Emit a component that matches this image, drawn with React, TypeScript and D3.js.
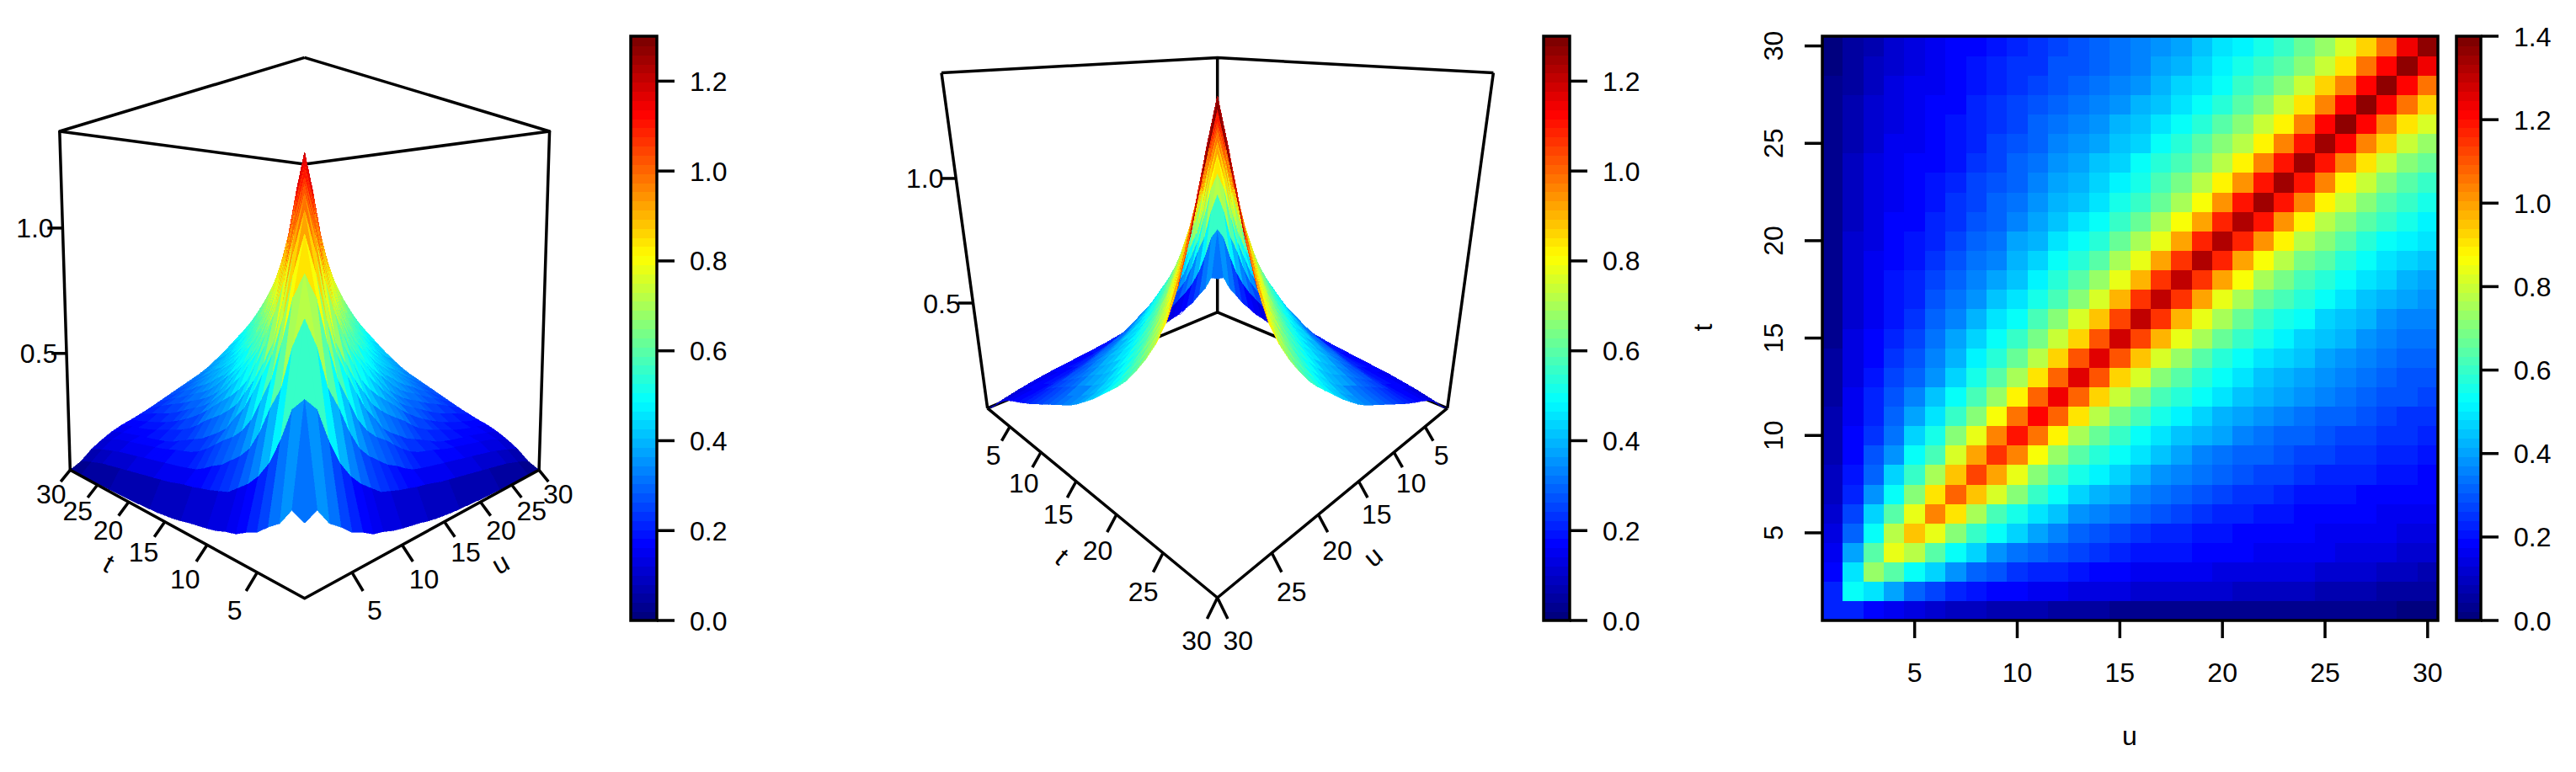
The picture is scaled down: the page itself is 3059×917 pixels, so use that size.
import * as d3 from "d3";

// upper triangle of the kernel: row t holds u = t..30
const row01 = [0.22, 0.24, 0.19, 0.165, 0.135, 0.12, 0.1, 0.092, 0.08, 0.072, 0.066, 0.06, 0.052, 0.046, 0.042, 0.038, 0.036, 0.034, 0.032, 0.03, 0.029, 0.028, 0.027, 0.026, 0.025, 0.024, 0.023, 0.022, 0.021, 0.02];
const row02 = [0.525, 0.49, 0.395, 0.32, 0.27, 0.235, 0.21, 0.185, 0.175, 0.165, 0.158, 0.15, 0.145, 0.138, 0.13, 0.125, 0.12, 0.115, 0.11, 0.105, 0.1, 0.095, 0.09, 0.085, 0.08, 0.072, 0.064, 0.055, 0.045];
const row03 = [0.73, 0.65, 0.525, 0.46, 0.38, 0.32, 0.285, 0.26, 0.235, 0.22, 0.2, 0.185, 0.178, 0.172, 0.167, 0.162, 0.157, 0.152, 0.147, 0.142, 0.137, 0.132, 0.127, 0.12, 0.113, 0.105, 0.095, 0.085];
const row04 = [0.85, 0.78, 0.645, 0.53, 0.46, 0.39, 0.345, 0.315, 0.295, 0.27, 0.245, 0.225, 0.212, 0.205, 0.198, 0.19, 0.182, 0.177, 0.172, 0.167, 0.162, 0.157, 0.152, 0.146, 0.137, 0.127, 0.115];
const row05 = [0.96, 0.845, 0.705, 0.595, 0.525, 0.46, 0.4, 0.36, 0.315, 0.29, 0.27, 0.25, 0.238, 0.225, 0.212, 0.198, 0.19, 0.184, 0.179, 0.175, 0.171, 0.166, 0.161, 0.155, 0.148, 0.14];
const row06 = [1.03, 0.91, 0.76, 0.62, 0.55, 0.49, 0.44, 0.39, 0.36, 0.335, 0.315, 0.295, 0.27, 0.25, 0.235, 0.224, 0.215, 0.205, 0.195, 0.188, 0.181, 0.176, 0.172, 0.167, 0.16];
const row07 = [1.085, 0.96, 0.815, 0.705, 0.595, 0.53, 0.465, 0.425, 0.395, 0.37, 0.345, 0.318, 0.295, 0.275, 0.258, 0.243, 0.23, 0.218, 0.208, 0.2, 0.193, 0.185, 0.18, 0.175];
const row08 = [1.12, 0.985, 0.84, 0.71, 0.63, 0.56, 0.51, 0.46, 0.425, 0.39, 0.36, 0.33, 0.31, 0.295, 0.28, 0.265, 0.25, 0.237, 0.228, 0.22, 0.21, 0.2, 0.192];
const row09 = [1.15, 1.03, 0.86, 0.735, 0.645, 0.57, 0.525, 0.485, 0.445, 0.405, 0.37, 0.345, 0.325, 0.31, 0.298, 0.283, 0.27, 0.26, 0.248, 0.235, 0.222, 0.21];
const row10 = [1.185, 1.05, 0.885, 0.755, 0.665, 0.595, 0.535, 0.49, 0.455, 0.425, 0.395, 0.365, 0.342, 0.325, 0.313, 0.298, 0.283, 0.27, 0.258, 0.243, 0.23];
const row11 = [1.205, 1.075, 0.91, 0.785, 0.69, 0.615, 0.56, 0.52, 0.475, 0.435, 0.405, 0.385, 0.36, 0.342, 0.328, 0.308, 0.295, 0.28, 0.262, 0.25];
const row12 = [1.225, 1.09, 0.92, 0.795, 0.705, 0.625, 0.575, 0.525, 0.485, 0.45, 0.425, 0.4, 0.378, 0.358, 0.338, 0.32, 0.3, 0.285, 0.27];
const row13 = [1.255, 1.1, 0.935, 0.81, 0.715, 0.645, 0.58, 0.53, 0.495, 0.455, 0.43, 0.405, 0.39, 0.365, 0.345, 0.325, 0.305, 0.29];
const row14 = [1.26, 1.11, 0.95, 0.83, 0.73, 0.655, 0.59, 0.54, 0.5, 0.465, 0.44, 0.415, 0.39, 0.37, 0.345, 0.325, 0.31];
const row15 = [1.28, 1.13, 0.965, 0.84, 0.745, 0.66, 0.6, 0.555, 0.515, 0.475, 0.45, 0.42, 0.39, 0.365, 0.345, 0.33];
const row16 = [1.3, 1.15, 0.975, 0.85, 0.75, 0.665, 0.61, 0.56, 0.525, 0.48, 0.45, 0.42, 0.39, 0.37, 0.355];
const row17 = [1.305, 1.15, 0.985, 0.845, 0.755, 0.675, 0.615, 0.57, 0.525, 0.49, 0.455, 0.425, 0.4, 0.385];
const row18 = [1.31, 1.155, 0.99, 0.86, 0.765, 0.69, 0.625, 0.575, 0.53, 0.495, 0.46, 0.435, 0.415];
const row19 = [1.32, 1.17, 1.0, 0.87, 0.78, 0.695, 0.635, 0.58, 0.535, 0.5, 0.47, 0.45];
const row20 = [1.32, 1.18, 1.01, 0.875, 0.785, 0.705, 0.64, 0.585, 0.54, 0.51, 0.485];
const row21 = [1.33, 1.185, 1.02, 0.885, 0.785, 0.71, 0.645, 0.595, 0.55, 0.52];
const row22 = [1.335, 1.19, 1.03, 0.89, 0.79, 0.71, 0.65, 0.6, 0.56];
const row23 = [1.345, 1.195, 1.03, 0.895, 0.79, 0.715, 0.655, 0.61];
const row24 = [1.35, 1.2, 1.03, 0.91, 0.8, 0.72, 0.665];
const row25 = [1.355, 1.21, 1.045, 0.92, 0.805, 0.73];
const row26 = [1.36, 1.21, 1.045, 0.91, 0.81];
const row27 = [1.365, 1.215, 1.05, 0.92];
const row28 = [1.37, 1.22, 1.06];
const row29 = [1.37, 1.225];
const row30 = [1.375];

const upperRows = [
  row01, row02, row03, row04, row05, row06, row07, row08, row09, row10,
  row11, row12, row13, row14, row15, row16, row17, row18, row19, row20,
  row21, row22, row23, row24, row25, row26, row27, row28, row29, row30,
];

const gridTicks = [5, 10, 15, 20, 25, 30];
const zTicks = [0.5, 1.0];
const barTicks = [0, 0.2, 0.4, 0.6, 0.8, 1.0, 1.2];
const heatBarTicks = [0, 0.2, 0.4, 0.6, 0.8, 1.0, 1.2, 1.4];
const jetStops = ["#00007F", "#0000FF", "#007FFF", "#00FFFF", "#7FFF7F", "#FFFF00", "#FF7F00", "#FF0000", "#7F0000"];

const FONT = "'Liberation Sans', Arial, sans-serif";
const FS = 32;
const LW = 3.5;
const PLOT_TOP = 43;
const PLOT_BOTTOM = 737;
const grid = d3.range(1, 31);

// value at (u, t): the kernel is symmetric
const K = (u: number, t: number) => {
  const lo = Math.min(u, t);
  const hi = Math.max(u, t);
  return upperRows[lo - 1][hi - lo];
};

const jet = d3.scaleLinear<string>()
  .domain(jetStops.map((_, i) => i / (jetStops.length - 1)))
  .range(jetStops)
  .interpolate(d3.interpolateRgb);
const jet64 = d3.quantize(jet, 64);

const zScale = d3.scaleLinear().domain([0.02, 1.375]).range([0, 1]);

type View = { cx: number; a: number; P: number; Q: number; R: number; A: number; B: number; flip: boolean };

function makeProjection(v: View) {
  return (a: number, b: number, zn: number): [number, number] => {
    const s = (a + b) / 2;
    const w = 1 + v.A * s + v.B * zn;
    return [v.cx + (v.a * (a - b)) / w, (v.P + v.Q * s + v.R * zn) / w];
  };
}

const pathOf = (pts: [number, number][]) => d3.line()(pts) as string;

function ColorBar({ x0, x1, max, ticks }: { x0: number; x1: number; max: number; ticks: number[] }) {
  const y = d3.scaleLinear().domain([0, max]).range([PLOT_BOTTOM, PLOT_TOP]);
  const step = max / 64;
  return (
    <g>
      {jet64.map((c, i) => (
        <rect key={i} x={x0} width={x1 - x0} y={y((i + 1) * step)} height={y(i * step) - y((i + 1) * step) + 1} fill={c} shapeRendering="crispEdges" />
      ))}
      <rect x={x0} y={PLOT_TOP} width={x1 - x0} height={PLOT_BOTTOM - PLOT_TOP} fill="none" stroke="#000" strokeWidth={LW} />
      {ticks.map((t) => (
        <g key={t}>
          <line x1={x1} x2={x1 + 21} y1={y(t)} y2={y(t)} stroke="#000" strokeWidth={LW} />
          <text x={x1 + 39} y={y(t) + FS * 0.36} fontSize={FS} fontFamily={FONT}>{t.toFixed(1)}</text>
        </g>
      ))}
    </g>
  );
}

function Persp({ view, tick, label, tLabel, backEdges, zLabelGap }: {
  view: View;
  tick: [number, number];
  label: [number, number];
  tLabel: [number, number];
  backEdges: [number, number, number][][];
  zLabelGap: number;
}) {
  const project = makeProjection(view);
  const colour = d3.scaleQuantize<string>().domain([0, 1.3]).range(jet64);
  const along = d3.scaleLinear().domain([1, 30]).range(view.flip ? [1, 0] : [0, 1]);

  // one facet per grid cell, far ones first so the near ones paint over them
  const facets: { d: string; fill: string; depth: number }[] = [];
  grid.slice(0, -1).forEach((u) => {
    grid.slice(0, -1).forEach((t) => {
      const corners: [number, number][] = [[u, t], [u + 1, t], [u + 1, t + 1], [u, t + 1]];
      const vals = corners.map(([cu, ct]) => K(cu, ct));
      facets.push({
        d: pathOf(corners.map(([cu, ct]) => project(along(cu), along(ct), zScale(K(cu, ct))))) + "Z",
        fill: colour(Math.min(d3.mean(vals) as number, 1.299)),
        depth: (along(u) + along(u + 1) + along(t) + along(t + 1)) / 4,
      });
    });
  });
  facets.sort((p, q) => d3.descending(p.depth, q.depth));

  const [dt, et] = tick;
  const [dl, el] = label;
  const mid = along(15.5);

  return (
    <g>
      {backEdges.map((edge, i) => (
        <path key={i} d={pathOf(edge.map(([a, b, z]) => project(a, b, z)))} fill="none" stroke="#000" strokeWidth={LW} strokeLinejoin="round" />
      ))}
      {facets.map((f, i) => (
        <path key={i} d={f.d} fill={f.fill} stroke={f.fill} strokeWidth={0.6} shapeRendering="crispEdges" />
      ))}
      <path d={pathOf([project(1, 0, 0), project(0, 0, 0), project(0, 1, 0)])} fill="none" stroke="#000" strokeWidth={LW} strokeLinejoin="round" />
      {gridTicks.map((n) => {
        const k = along(n);
        const l0 = project(0, k, 0), l1 = project(-dt, k, -et), lt = project(-dl, k, -el);
        const r0 = project(k, 0, 0), r1 = project(k, -dt, -et), rt = project(k, -dl, -el);
        return (
          <g key={n} fontSize={FS} fontFamily={FONT} textAnchor="middle">
            <line x1={l0[0]} y1={l0[1]} x2={l1[0]} y2={l1[1]} stroke="#000" strokeWidth={LW} />
            <line x1={r0[0]} y1={r0[1]} x2={r1[0]} y2={r1[1]} stroke="#000" strokeWidth={LW} />
            <text x={lt[0]} y={lt[1] + FS * 0.36}>{n}</text>
            <text x={rt[0]} y={rt[1] + FS * 0.36}>{n}</text>
          </g>
        );
      })}
      {zTicks.map((z) => {
        const p = project(0, 1, zScale(z));
        return (
          <g key={z}>
            <line x1={p[0]} x2={p[0] - 18} y1={p[1]} y2={p[1]} stroke="#000" strokeWidth={LW} />
            <text x={p[0] - zLabelGap} y={p[1] + FS * 0.36} fontSize={FS} fontFamily={FONT} textAnchor="middle">{z.toFixed(1)}</text>
          </g>
        );
      })}
      {[["t", project(-tLabel[0], mid, -tLabel[1])], ["u", project(mid, -tLabel[0], -tLabel[1])]].map(([name, pos]: any) => {
        const from = project(0, 0, 0);
        const to = name === "t" ? project(0, 1, 0) : project(1, 0, 0);
        const ang = (Math.atan2(to[1] - from[1], to[0] - from[0]) * 180) / Math.PI;
        const rot = name === "t" ? ang + 180 : ang;
        return (
          <text key={name} transform={`translate(${pos[0]},${pos[1]}) rotate(${rot})`} fontSize={FS} fontFamily={FONT} textAnchor="middle" dy="0.36em">
            {name}
          </text>
        );
      })}
    </g>
  );
}

function Heat() {
  const x = d3.scaleLinear().domain([0.5, 30.5]).range([2164, 2895]);
  const y = d3.scaleLinear().domain([0.5, 30.5]).range([PLOT_BOTTOM, PLOT_TOP]);
  const colour = d3.scaleQuantize<string>().domain([0, 1.4]).range(jet64);
  return (
    <g>
      {grid.map((u) =>
        grid.map((t) => (
          <rect key={`${u}-${t}`} x={x(u - 0.5)} y={y(t + 0.5)} width={x(u + 0.5) - x(u - 0.5) + 0.5} height={y(t - 0.5) - y(t + 0.5) + 0.5} fill={colour(K(u, t))} shapeRendering="crispEdges" />
        ))
      )}
      <rect x={x(0.5)} y={y(30.5)} width={x(30.5) - x(0.5)} height={y(0.5) - y(30.5)} fill="none" stroke="#000" strokeWidth={LW} />
      {gridTicks.map((n) => (
        <g key={n} fontSize={FS} fontFamily={FONT} textAnchor="middle">
          <line x1={x(n)} x2={x(n)} y1={y(0.5)} y2={y(0.5) + 21} stroke="#000" strokeWidth={LW} />
          <text x={x(n)} y={798 + FS * 0.36}>{n}</text>
          <line x1={x(0.5)} x2={x(0.5) - 21} y1={y(n)} y2={y(n)} stroke="#000" strokeWidth={LW} />
          <text transform={`translate(2105,${y(n)}) rotate(-90)`} dy="0.36em">{n}</text>
        </g>
      ))}
      <text x={2529} y={879 + FS * 0.2} fontSize={FS} fontFamily={FONT} textAnchor="middle">u</text>
      <text transform={`translate(2027,389) rotate(-90)`} fontSize={FS} fontFamily={FONT} textAnchor="middle" dy="0.2em">t</text>
    </g>
  );
}

const viewFront: View = { cx: 361.7, a: 440.4, P: 710.7, Q: 345, R: -647, A: 1.164, B: -0.068, flip: false };
const viewBack: View = { cx: 1445.7, a: 406, P: 710, Q: 22.3, R: -613.9, A: 0.974, B: -0.248, flip: true };

export default function App() {
  return (
    <svg width={3059} height={917} viewBox="0 0 3059 917" style={{ position: "absolute", left: 0, top: 0, display: "block", background: "#fff" }}>
      <Persp
        view={viewFront}
        tick={[0.03, 0.028]}
        label={[0.06, 0.056]}
        tLabel={[0.14, 0.06]}
        zLabelGap={33}
        backEdges={[
          [[0, 0, 1], [1, 0, 1], [1, 1, 1], [0, 1, 1], [0, 0, 1]],
          [[1, 0, 0], [1, 0, 1]],
          [[0, 1, 0], [0, 1, 1]],
        ]}
      />
      <ColorBar x0={749} x1={780} max={1.3} ticks={barTicks} />
      <Persp
        view={viewBack}
        tick={[0.03, 0.034]}
        label={[0.06, 0.068]}
        tLabel={[0.07, 0.187]}
        zLabelGap={37}
        backEdges={[
          [[1, 0, 1], [1, 1, 1], [0, 1, 1]],
          [[1, 0, 0], [1, 0, 1]],
          [[0, 1, 0], [0, 1, 1]],
          [[1, 1, 0], [1, 1, 1]],
          [[1, 0, 0], [1, 1, 0], [0, 1, 0]],
        ]}
      />
      <ColorBar x0={1833} x1={1864} max={1.3} ticks={barTicks} />
      <Heat />
      <ColorBar x0={2917} x1={2946} max={1.4} ticks={heatBarTicks} />
    </svg>
  );
}
